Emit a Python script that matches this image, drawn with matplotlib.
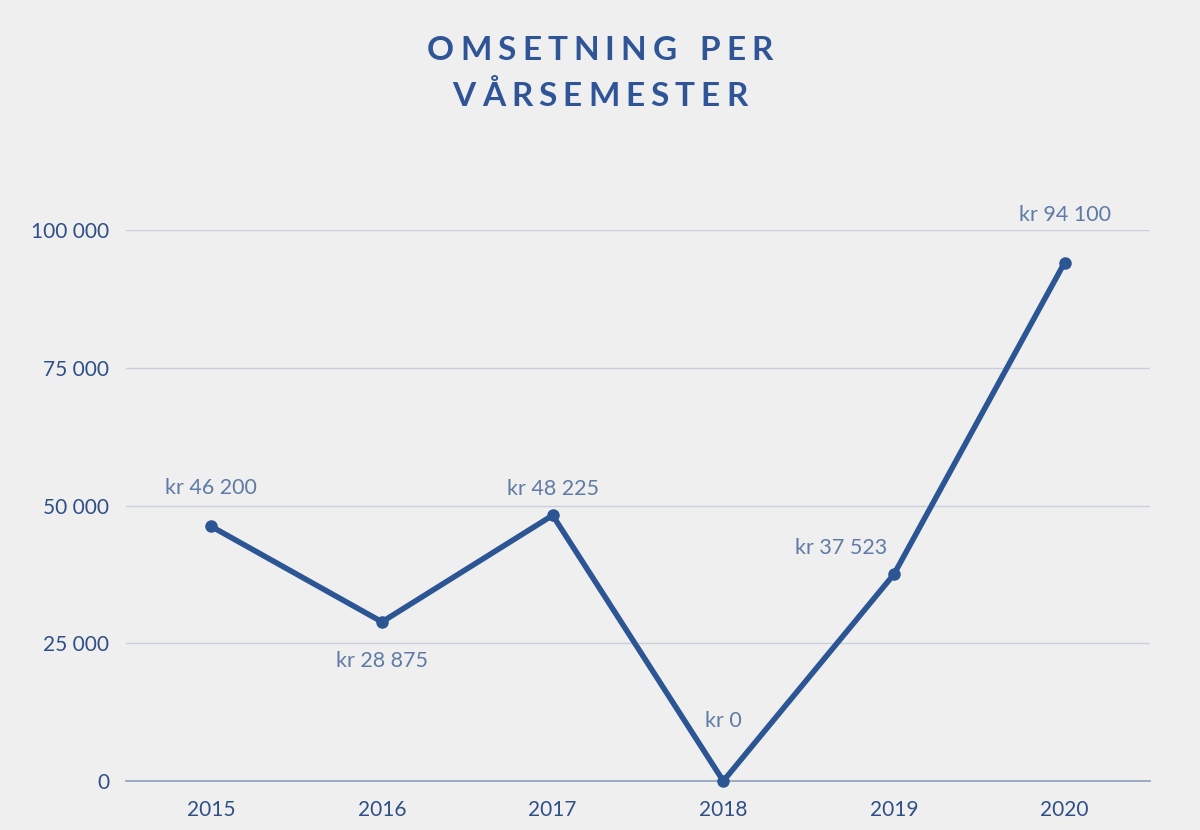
import matplotlib
matplotlib.use("Agg")
import matplotlib.pyplot as plt
from matplotlib.ticker import FuncFormatter

years = ["2015", "2016", "2017", "2018", "2019", "2020"]
omsetning = [46200, 28875, 48225, 0, 37523, 94100]
labels = ["kr 46 200", "kr 28 875", "kr 48 225", "kr 0", "kr 37 523", "kr 94 100"]
yticks = [0, 25000, 50000, 75000, 100000]

BG = "#efefef"
LINE = "#2c5593"
TITLE = "#2f5597"
TEXT = "#2f4f86"
LABEL = "#5f7ba5"

plt.rcParams["font.family"] = ["Lato", "DejaVu Sans"]

fig = plt.figure(figsize=(12, 8.3), dpi=100, facecolor=BG)
ax = fig.add_axes([0.105, 0.059, 0.8533, 0.6639], facecolor=BG)

x = list(range(len(years)))
ax.plot(x, omsetning, color=LINE, lw=4, marker="o", ms=8, clip_on=False, zorder=3)

ax.set_xlim(-0.5, len(years) - 0.5)
ax.set_ylim(0, 100000)
ax.set_yticks(yticks)
ax.yaxis.set_major_formatter(FuncFormatter(lambda v, p: f"{int(v):,}".replace(",", " ")))
ax.set_xticks(x)
ax.set_xticklabels(years)
ax.grid(axis="y", color="#c8d0dc", lw=1)
ax.set_axisbelow(True)
for s in ["top", "right", "left"]:
    ax.spines[s].set_visible(False)
ax.spines["bottom"].set_color("#8ea0bb")
ax.spines["bottom"].set_linewidth(1.2)
ax.tick_params(length=0, labelsize=15, colors=TEXT, pad=12)
ax.tick_params(axis="x", pad=14)

# data labels (offsets in points)
offsets = [(0, 28), (0, -28), (0, 19), (0, 43), (-38, 19), (0, 34)]
for xi, yi, lab, (dx, dy) in zip(x, omsetning, labels, offsets):
    ax.annotate(lab, (xi, yi), xytext=(dx, dy), textcoords="offset points",
                ha="center", va="center", fontsize=15.5, fontweight="normal",
                color=LABEL)


def tracked(text, xc, yc, size, spacing):
    # draw text letter by letter with extra tracking, centred at xc
    r = fig.canvas.get_renderer()
    widths = []
    for ch in text:
        t = fig.text(0, 0, ch if ch != " " else "n", fontsize=size, fontweight="bold")
        w = t.get_window_extent(r).width
        t.remove()
        widths.append(w * (0.6 if ch == " " else 1.0))
    total = sum(widths) + spacing * (len(text) - 1)
    px = xc * fig.bbox.width - total / 2
    for ch, w in zip(text, widths):
        if ch != " ":
            fig.text(px / fig.bbox.width, yc, ch, fontsize=size, fontweight="bold",
                     color=TITLE, ha="left", va="center")
        px += w + spacing


tracked("OMSETNING PER", 0.5, 1 - 50 / 830, 24, 6)
tracked("VÅRSEMESTER", 0.5, 1 - 96 / 830, 24, 6)

fig.savefig("out.png", dpi=100, facecolor=BG)
